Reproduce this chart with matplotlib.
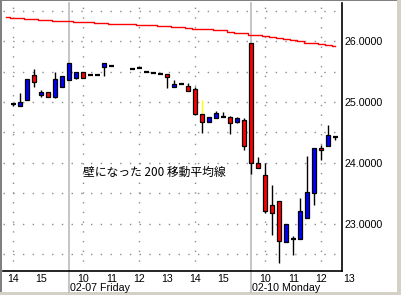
import matplotlib.pyplot as plt
import matplotlib.transforms as mtransforms
from matplotlib.patches import Rectangle

# 15-minute bars, index counted from Thu 14:00 (no gaps between sessions)
bar_idx = [0, 1, 2, 3, 4, 5, 6, 7, 8, 9, 10, 11, 12, 13, 14,
           17, 18, 19, 20, 21, 22, 23, 24, 25, 26, 27, 28, 29, 30, 31, 32, 33,
           34, 35, 36, 37, 38, 39, 40, 41, 42, 43, 44, 45, 46]
opens = [24.97, 24.94, 25.04, 25.44, 25.12, 25.16, 25.09, 25.25, 25.36, 25.40, 25.49, 25.44, 25.44, 25.57, 25.59,
         25.55, 25.56, 25.49, 25.47, 25.46, 25.46, 25.24, 25.29, 25.26, 25.22, 24.81, 24.68, 24.74, 24.75, 24.75, 24.68, 24.70,
         25.98, 23.99, 23.80, 23.31, 23.37, 22.70, 22.74, 22.74, 23.10, 23.51, 24.24, 24.27, 24.43]
highs = [24.98, 25.15, 25.38, 25.54, 25.20, 25.16, 25.50, 25.43, 25.65, 25.49, 25.49, 25.44, 25.44, 25.65, 25.59,
         25.55, 25.58, 25.49, 25.47, 25.46, 25.46, 25.36, 25.29, 25.31, 25.24, 25.03, 24.75, 24.85, 24.84, 24.77, 24.75, 24.73,
         25.98, 24.10, 23.99, 23.64, 23.37, 23.00, 22.80, 23.42, 24.11, 24.24, 24.29, 24.62, 24.43]
lows = [24.94, 24.94, 25.04, 25.25, 25.09, 25.09, 25.07, 25.24, 25.36, 25.38, 25.40, 25.44, 25.44, 25.43, 25.59,
        25.55, 25.56, 25.49, 25.47, 25.46, 25.23, 25.24, 25.29, 25.19, 24.80, 24.49, 24.68, 24.74, 24.75, 24.48, 24.65, 24.21,
        23.81, 23.91, 23.18, 22.81, 22.35, 22.70, 22.49, 22.74, 23.10, 23.30, 24.05, 24.27, 24.37]
closes = [24.97, 25.00, 25.38, 25.33, 25.17, 25.09, 25.38, 25.43, 25.65, 25.49, 25.40, 25.44, 25.44, 25.65, 25.59,
          25.55, 25.56, 25.49, 25.47, 25.46, 25.42, 25.29, 25.29, 25.19, 24.80, 24.67, 24.75, 24.82, 24.75, 24.65, 24.73, 24.28,
          23.99, 23.91, 23.21, 23.18, 22.71, 23.00, 22.74, 23.21, 23.52, 24.24, 24.21, 24.45, 24.43]

# 200-period moving average, one value per bar from index -1 to 46
ma_start = -1
ma_values = [26.40, 26.38, 26.38, 26.37, 26.36, 26.35, 26.35, 26.34, 26.33, 26.33, 26.32, 26.31,
             26.31, 26.30, 26.30, 26.29, 26.28, 26.28, 26.28, 26.27, 26.26, 26.26, 26.25, 26.25,
             26.24, 26.23, 26.22, 26.21, 26.21, 26.20, 26.19, 26.18, 26.16, 26.14, 26.13, 26.11,
             26.10, 26.08, 26.07, 26.05, 26.03, 26.02, 26.00, 25.98, 25.97, 25.96, 25.94, 25.93]

hour_ticks = [0, 4, 10, 14, 18, 22, 26, 30, 36, 40, 44, 48]
hour_labels = ["14", "15", "10", "11", "12", "13", "14", "15", "10", "11", "12", "13"]
grid_x = [0, 10, 18, 26, 36, 44]
day_starts = [8, 34]
day_labels = ["02-07 Friday", "02-10 Monday"]
price_ticks = [23, 24, 25, 26]
grid_y = [22.5, 23.0, 23.5, 24.0, 24.5, 25.0, 25.5, 26.0, 26.5]
note = "壁になった 200 移動平均線"

W, H = 401, 295
fig = plt.figure(figsize=(W / 100, H / 100), dpi=100, facecolor="#d4d0c8")
# white chart panel with sunken border
fig.add_artist(Rectangle((0, 3 / H), 397 / W, 292 / H, transform=fig.transFigure,
                         facecolor="white", edgecolor="none", zorder=0))
fig.add_artist(Rectangle((0, 3 / H), 2 / W, 292 / H, transform=fig.transFigure,
                         facecolor="#808080", edgecolor="none", zorder=0))
fig.add_artist(Rectangle((0, 294 / H), 397 / W, 1 / H, transform=fig.transFigure,
                         facecolor="#808080", edgecolor="none", zorder=0))

ax = fig.add_axes([3 / W, 24 / H, 339 / W, 268 / H])
ax.set_facecolor("white")
ax.set_xlim(-1.47, 46.96)
ax.set_ylim(22.22, 26.63)
for s in ["left", "top"]:
    ax.spines[s].set_visible(False)
for s in ["right", "bottom"]:
    ax.spines[s].set_color("black")
    ax.spines[s].set_linewidth(1.2)

# grid
for gy in grid_y:
    ax.axhline(gy, color="#8c8c8c", lw=1.0, dashes=(1, 6), zorder=1)
for gx in grid_x:
    ax.axvline(gx, color="#8c8c8c", lw=1.0, dashes=(1, 6), zorder=1)
for d in day_starts:
    ax.axvline(d, ymin=-0.079, ymax=1, color="#c0c0c0", lw=1.3, clip_on=False, zorder=1)

# moving average
ma_idx = list(range(ma_start, ma_start + len(ma_values)))
ax.plot(ma_idx, ma_values, color="#ff0000", lw=1.0, drawstyle="steps-mid", zorder=2)

# candles
for k, o, h, l, c in zip(bar_idx, opens, highs, lows, closes):
    top, bot = max(o, c), min(o, c)
    if h > top:
        ax.vlines(k, top, h, color="#ffff00" if k == 27 else "black", lw=1.0, zorder=3)
    if l < bot:
        ax.vlines(k, l, bot, color="black", lw=1.0, zorder=3)
    if abs(c - o) < 0.005:
        ax.hlines(o, k - 0.36, k + 0.36, color="black", lw=1.6, zorder=4)
    else:
        ax.bar(k, top - bot, bottom=bot, width=0.6,
               color="#0000ff" if c > o else "#ff0000",
               edgecolor="black", linewidth=0.9, zorder=4)

# axes labels
ax.set_xticks([])
ax.yaxis.tick_right()
ax.set_yticks(price_ticks)
ax.set_yticklabels(["%.4f" % p for p in price_ticks], fontfamily="Liberation Sans", fontsize=7.7)
ax.tick_params(axis="y", length=0, pad=1.5)

trans = mtransforms.blended_transform_factory(ax.transData, ax.transAxes)
for k, lab in zip(hour_ticks, hour_labels):
    ax.text(k, -0.028, lab, transform=trans, ha="center", va="center",
            fontfamily="Liberation Sans", fontsize=7.7, clip_on=False)
for k, lab in zip(day_starts, day_labels):
    ax.text(k + 0.05, -0.062, lab, transform=trans, ha="left", va="center",
            fontfamily="Liberation Sans", fontsize=7.7, clip_on=False)

ax.text(9.96, 23.84, note, ha="left", va="center", fontsize=8.5,
        fontfamily=["Noto Sans CJK JP", "DejaVu Sans"], zorder=5)

fig.savefig("out.png", dpi=100, facecolor=fig.get_facecolor())
